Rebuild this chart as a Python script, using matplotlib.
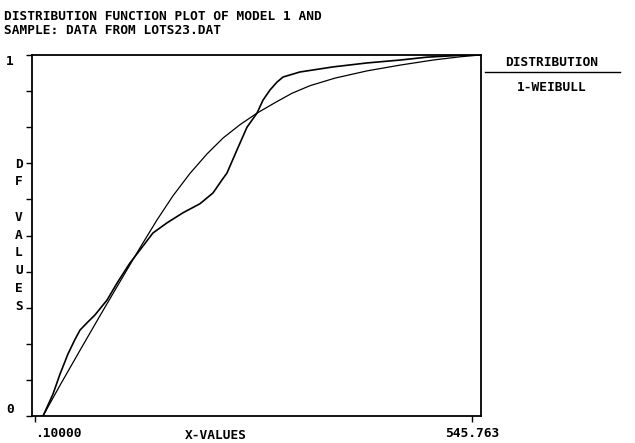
import matplotlib
matplotlib.use("Agg")
import matplotlib.pyplot as plt

# --- Data (x-values, DF values)
emp_x = [8.0, 10.1, 22.6, 31.3, 41.3, 50.0, 56.3, 65.0, 75.0, 90.0, 102.5, 118.7,
         131.2, 147.4, 164.9, 184.9, 206.1, 222.4, 233.6, 239.8, 252.3, 264.8,
         277.3, 284.8, 293.5, 302.3, 309.8, 331.0, 372.2, 414.7, 455.9, 489.4,
         539.5, 555.8]
emp_y = [0.0, 0.0, 0.061, 0.116, 0.172, 0.212, 0.238, 0.258, 0.280, 0.321, 0.368,
         0.424, 0.460, 0.507, 0.535, 0.563, 0.588, 0.618, 0.654, 0.673, 0.737,
         0.800, 0.839, 0.875, 0.903, 0.925, 0.939, 0.953, 0.967, 0.978, 0.986,
         0.994, 1.0, 1.0]

wb_x = [10.1, 31.3, 56.3, 81.3, 106.2, 131.2, 152.4, 172.4, 193.6, 214.9, 234.9,
        256.1, 277.3, 299.8, 321.0, 343.5, 374.7, 414.7, 455.9, 497.1, 530.8, 555.8]
wb_y = [0.0, 0.085, 0.182, 0.278, 0.372, 0.466, 0.543, 0.610, 0.672, 0.726, 0.770,
        0.807, 0.839, 0.868, 0.894, 0.915, 0.936, 0.956, 0.972, 0.986, 0.995, 1.0]

x_ticks = [0.1, 545.763]
x_ticklabels = [".10000", "545.763"]
y_ticks = [0.0, 0.1, 0.2, 0.3, 0.4, 0.5, 0.6, 0.7, 0.8, 0.9, 1.0]
y_ticklabels = ["0", "", "", "", "", "", "", "", "", "", "1"]
ylabel_letters = ["D", "F", "", "V", "A", "L", "U", "E", "S"]

title = "DISTRIBUTION FUNCTION PLOT OF MODEL 1 AND\nSAMPLE: DATA FROM LOTS23.DAT"
legend_head = "DISTRIBUTION"
legend_item = "1-WEIBULL"

font = dict(family="DejaVu Sans Mono", weight="bold", size=9.3)

fig = plt.figure(figsize=(6.35, 4.43), dpi=100)
ax = fig.add_axes([32 / 635, 1 - 416 / 443, 449 / 635, 361 / 443])

ax.plot(emp_x, emp_y, color="black", lw=1.2)
ax.plot(wb_x, wb_y, color="black", lw=0.9)

ax.set_xlim(-3.65, 557.0)
ax.set_ylim(0, 1)
for s in ax.spines.values():
    s.set_linewidth(1.3)

ax.set_xticks(x_ticks)
ax.set_xticklabels(x_ticklabels, **font)
ax.xaxis.get_ticklabels()[0].set_horizontalalignment("left")
ax.set_yticks(y_ticks)
ax.set_yticklabels(y_ticklabels, **font)
ax.yaxis.get_ticklabels()[0].set_verticalalignment("bottom")
ax.yaxis.get_ticklabels()[-1].set_verticalalignment("top")
ax.tick_params(direction="out", length=4, width=1.0, pad=4)
ax.tick_params(axis="y", pad=9)

ax.set_xlabel("X-VALUES", **font)
ax.xaxis.set_label_coords(0.41, -0.035)
ax.xaxis.label.set_verticalalignment("top")

# stacked vertical y label
y0 = 164
for i, ch in enumerate(ylabel_letters):
    fig.text(19 / 635, 1 - (y0 + i * 17.8) / 443, ch, ha="center", va="center", **font)

fig.text(4 / 635, 1 - 10 / 443, title, ha="left", va="top", linespacing=1.15, **font)

# legend box on the right
fig.text(552 / 635, 1 - 62 / 443, legend_head, ha="center", va="center", **font)
fig.add_artist(plt.Line2D([485 / 635, 620 / 635], [1 - 72 / 443, 1 - 72 / 443],
                          color="black", lw=1.0))
fig.text(552 / 635, 1 - 88 / 443, legend_item, ha="center", va="center", **font)

fig.savefig("out.png", dpi=100)
